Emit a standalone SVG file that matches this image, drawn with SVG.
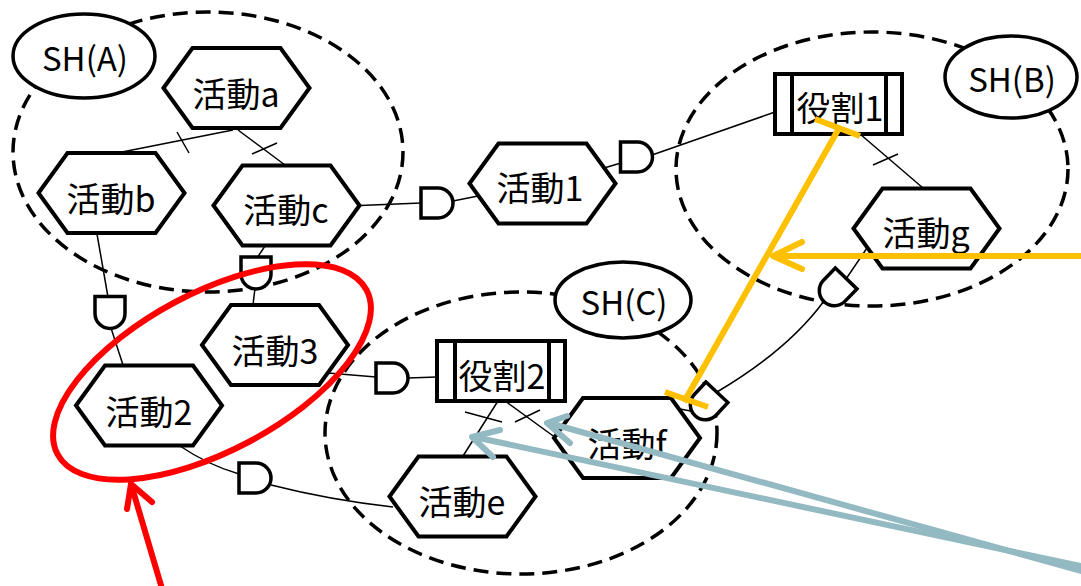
<svg xmlns="http://www.w3.org/2000/svg" width="1081" height="586" viewBox="0 0 1081 586">
<style>
.sh{fill:none;stroke:#000;stroke-width:3.5;stroke-dasharray:15 8}
.lbl{fill:#fff;stroke:#000;stroke-width:3.5}
.hex{fill:#fff;stroke:#000;stroke-width:4;stroke-linejoin:miter}
.role{fill:#fff;stroke:#000;stroke-width:4}
.ln{fill:none;stroke:#000;stroke-width:1.5}
.gate{fill:#fff;stroke:#000;stroke-width:3.5}
text{font-family:'Noto Sans CJK JP','Noto Sans',sans-serif;fill:#000;text-anchor:middle}
.t{font-size:34px}
.ts{font-size:33px}
.red{fill:none;stroke:#FF0000;stroke-width:6;stroke-linecap:round;stroke-linejoin:round}
.org{fill:none;stroke:#FFC000;stroke-width:6;stroke-linecap:butt;stroke-linejoin:round}
.orgc{fill:none;stroke:#FFC000;stroke-width:6;stroke-linecap:round;stroke-linejoin:round}
.blu{fill:none;stroke:#93B9C2;stroke-width:6;stroke-linecap:round;stroke-linejoin:round}
</style>
<defs>
<path id="hexp" d="M-73,0 L-44,-40 L44,-40 L73,0 L44,40 L-44,40 Z"/>
<path id="dg" d="M-16,-15 H1 A15,15 0 0 1 1,15 H-16 Z"/>
</defs>

<g id="stakeholder-areas">
<ellipse class="sh" cx="208" cy="152" rx="195" ry="140"/>
<ellipse class="sh" cx="872" cy="169" rx="196" ry="137"/>
<ellipse class="sh" cx="521" cy="433" rx="196" ry="141"/>
</g>

<g id="connectors">
<path class="ln" d="M233,130 L117,153"/>
<path class="ln" d="M177,132 L189,153"/>
<path class="ln" d="M238,130 L285,165"/>
<path class="ln" d="M252,154 L277,143"/>
<path class="ln" d="M97,234 L108,297"/>
<path class="ln" d="M111,328 L123,365"/>
<path class="ln" d="M265,246 L257,258"/>
<path class="ln" d="M255,288 L253,305"/>
<path class="ln" d="M360,205.5 L421,203"/>
<path class="ln" d="M453,201 L478,196"/>
<path class="ln" d="M604,168 L621,163"/>
<path class="ln" d="M652,155 L775,112"/>
<path class="ln" d="M860,134 L923,188"/>
<path class="ln" d="M873,165 L898,154"/>
<path class="ln" d="M867,248 L846,279"/>
<path class="ln" d="M824,301 Q788,350 717,392"/>
<path class="ln" d="M680,409 L696,412"/>
<path class="ln" d="M328,373 L376,377"/>
<path class="ln" d="M408,378 L437,377"/>
<path class="ln" d="M180,446 Q208,465 239,474"/>
<path class="ln" d="M271,485 Q330,500 393,507"/>
<path class="ln" d="M498,401 L463,456"/>
<path class="ln" d="M465,412 L502,422"/>
<path class="ln" d="M505,401 L556,438"/>
<path class="ln" d="M515,422 L540,410"/>
<use href="#dg" class="gate" transform="translate(110,312.5) rotate(90)"/>
<use href="#dg" class="gate" transform="translate(256,273) rotate(90)"/>
<use href="#dg" class="gate" transform="translate(437,203)"/>
<use href="#dg" class="gate" transform="translate(636.5,157)"/>
<use href="#dg" class="gate" transform="translate(392,378)"/>
<use href="#dg" class="gate" transform="translate(255,478)"/>
<use href="#dg" class="gate" transform="translate(835,290) rotate(134)"/>
<use href="#dg" class="gate" transform="translate(706,404) rotate(133)"/>
</g>

<g id="sh-a"><ellipse class="lbl" cx="84" cy="56" rx="71" ry="42"/><text class="ts" x="85" y="71">SH(A)</text></g>
<g id="sh-b"><ellipse class="lbl" cx="1011" cy="77" rx="66" ry="41"/><text class="ts" x="1012" y="92">SH(B)</text></g>
<g id="sh-c"><ellipse class="lbl" cx="623" cy="300" rx="68" ry="38"/><text class="ts" x="624" y="315">SH(C)</text></g>

<g id="act-a"><use href="#hexp" class="hex" x="236.5" y="88"/><text class="t" x="236" y="107">活動a</text></g>
<g id="act-b"><use href="#hexp" class="hex" x="111.5" y="193"/><text class="t" x="111" y="212">活動b</text></g>
<g id="act-c"><use href="#hexp" class="hex" x="286.5" y="205.5"/><text class="t" x="286" y="223">活動c</text></g>
<g id="act-1"><use href="#hexp" class="hex" x="542.5" y="183.5"/><text class="t" x="540" y="201">活動1</text></g>
<g id="act-g"><use href="#hexp" class="hex" x="926.5" y="228.5"/><text class="t" x="926" y="246">活動g</text></g>
<g id="act-3"><use href="#hexp" class="hex" x="275" y="345"/><text class="t" x="275" y="364">活動3</text></g>
<g id="act-2"><use href="#hexp" class="hex" x="149" y="405.5"/><text class="t" x="149" y="425">活動2</text></g>
<g id="act-e"><use href="#hexp" class="hex" x="462.5" y="496.5"/><text class="t" x="462" y="515">活動e</text></g>
<g id="act-f"><use href="#hexp" class="hex" x="627" y="438"/><text class="t" x="627" y="457">活動f</text></g>

<g id="role-1">
<rect class="role" x="775" y="74" width="127" height="60"/>
<line class="role" x1="792" y1="74" x2="792" y2="134"/>
<line class="role" x1="886" y1="74" x2="886" y2="134"/>
<text class="t" x="840" y="121">役割1</text>
</g>
<g id="role-2">
<rect class="role" x="437" y="341" width="128" height="60"/>
<line class="role" x1="455" y1="341" x2="455" y2="401"/>
<line class="role" x1="549" y1="341" x2="549" y2="401"/>
<text class="t" x="502" y="389">役割2</text>
</g>

<g id="annotations">
<ellipse class="red" cx="212" cy="372" rx="175" ry="79" transform="rotate(-28 212 372)"/>
<path class="red" d="M163,592 L131,484"/>
<path class="red" d="M127,509 L131,484 L152,502"/>
<path class="org" d="M838,130 L684,402"/>
<path class="org" d="M815,119 L860,136"/>
<path class="org" d="M665,392 L708,407"/>
<path class="org" d="M1085,256 L775,256"/>
<path class="orgc" d="M802,242 L773,256 L802,269"/>
<path class="blu" d="M1085,572 L549,423"/>
<path class="blu" d="M567,416 L547,423 L570,443"/>
<path class="blu" d="M1085,567 L474,437"/>
<path class="blu" d="M500,430 L472,437 L493,457"/>
</g>
</svg>
